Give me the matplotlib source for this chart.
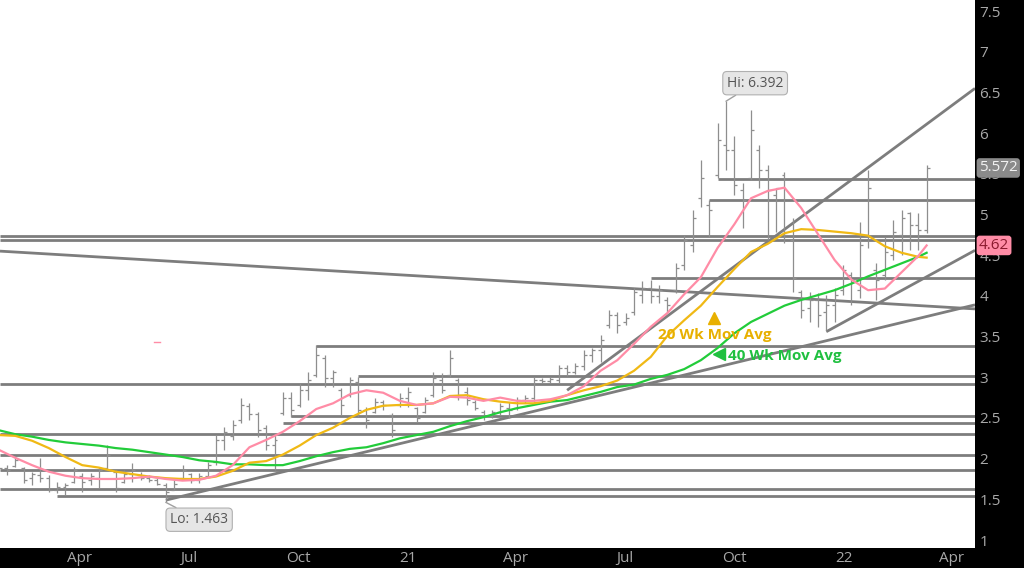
import numpy as np
import pandas as pd
import matplotlib
matplotlib.use("Agg")
import matplotlib.pyplot as plt
import matplotlib.dates as mdates
from matplotlib.ticker import FuncFormatter, MultipleLocator

plt.rcParams['font.family'] = ['Open Sans', 'DejaVu Sans']

# weekly bars, Jan 2020 - Mar 2022
weeks = pd.date_range("2020-01-24", periods=112, freq="7D")

high = [1.95, 1.92, 2.02, 1.90, 1.84, 2.01, 1.80, 1.71, 1.70, 1.90,
        1.82, 1.82, 1.90, 2.17, 1.86, 1.86, 1.95, 1.84, 1.80, 1.76,
        1.70, 1.74, 1.92, 1.82, 1.82, 1.96, 2.29, 2.39, 2.48, 2.75,
        2.68, 2.57, 2.41, 2.32, 2.82, 2.82, 2.93, 3.07, 3.40, 3.27,
        3.09, 2.87, 3.00, 3.00, 2.64, 2.75, 2.72, 2.56, 2.81, 2.88,
        2.64, 2.76, 3.07, 3.05, 3.34, 2.99, 2.88, 2.72, 2.60, 2.60,
        2.68, 2.70, 2.76, 2.78, 3.00, 2.99, 3.00, 3.15, 3.15, 3.18,
        3.34, 3.36, 3.52, 3.83, 3.80, 3.79, 4.10, 4.18, 4.20, 4.13,
        3.99, 4.40, 4.75, 5.06, 5.67, 5.18, 6.13, 6.392, 5.97, 5.39,
        6.28, 5.85, 5.61, 5.33, 5.52, 4.96, 4.07, 4.05, 4.04, 4.01,
        4.10, 4.38, 4.29, 4.91, 5.55, 4.40, 4.72, 4.93, 5.06, 5.03,
        5.02, 5.61]
low = [1.77, 1.80, 1.90, 1.70, 1.68, 1.71, 1.59, 1.58, 1.55, 1.70,
       1.59, 1.68, 1.64, 1.86, 1.59, 1.70, 1.71, 1.74, 1.71, 1.68,
       1.463, 1.62, 1.76, 1.70, 1.70, 1.78, 1.92, 2.11, 2.23, 2.44,
       2.48, 2.27, 2.11, 1.86, 2.54, 2.51, 2.64, 2.72, 3.00, 2.88,
       2.88, 2.54, 2.76, 2.51, 2.38, 2.56, 2.60, 2.27, 2.64, 2.64,
       2.45, 2.56, 2.76, 2.81, 3.00, 2.72, 2.66, 2.60, 2.48, 2.50,
       2.54, 2.50, 2.60, 2.68, 2.70, 2.93, 2.93, 2.93, 3.02, 3.04,
       3.09, 3.19, 3.19, 3.61, 3.54, 3.64, 3.77, 3.91, 3.91, 3.91,
       3.80, 4.04, 4.32, 4.54, 5.09, 4.72, 5.45, 5.55, 5.24, 4.83,
       5.42, 5.33, 4.69, 4.79, 4.65, 4.05, 3.73, 3.68, 3.62, 3.58,
       3.68, 4.01, 3.89, 3.97, 4.59, 3.95, 4.20, 4.44, 4.50, 4.56,
       4.56, 4.77]
opn = [1.86, 1.88, 1.91, 1.88, 1.76, 1.80, 1.76, 1.62, 1.65, 1.71,
       1.79, 1.74, 1.76, 1.89, 1.84, 1.71, 1.81, 1.80, 1.76, 1.74,
       1.68, 1.62, 1.76, 1.81, 1.74, 1.79, 1.96, 2.23, 2.28, 2.48,
       2.65, 2.55, 2.38, 2.17, 2.56, 2.75, 2.66, 2.84, 3.03, 3.24,
       2.99, 2.84, 2.78, 2.94, 2.60, 2.57, 2.70, 2.54, 2.66, 2.75,
       2.62, 2.57, 2.78, 2.97, 3.03, 2.97, 2.82, 2.70, 2.57, 2.52,
       2.57, 2.62, 2.62, 2.72, 2.75, 2.97, 2.95, 2.97, 3.11, 3.07,
       3.14, 3.27, 3.34, 3.64, 3.77, 3.68, 3.80, 4.01, 4.10, 4.00,
       3.95, 4.07, 4.38, 4.63, 5.20, 5.12, 5.49, 5.85, 5.79, 5.30,
       5.45, 5.79, 5.55, 5.24, 5.49, 4.69, 4.05, 3.85, 3.95, 3.80,
       3.89, 4.07, 4.26, 4.07, 4.75, 4.32, 4.26, 4.50, 4.75, 5.02,
       4.87, 4.81]
close = [1.88, 1.86, 1.98, 1.74, 1.81, 1.76, 1.62, 1.65, 1.68, 1.86,
         1.71, 1.79, 1.86, 2.05, 1.64, 1.81, 1.86, 1.76, 1.74, 1.69,
         1.59, 1.69, 1.86, 1.74, 1.79, 1.92, 2.23, 2.33, 2.41, 2.66,
         2.55, 2.35, 2.17, 2.23, 2.75, 2.60, 2.84, 2.97, 3.27, 2.99,
         3.07, 2.66, 2.97, 2.60, 2.48, 2.70, 2.66, 2.35, 2.75, 2.82,
         2.50, 2.72, 2.99, 2.84, 3.24, 2.78, 2.72, 2.62, 2.52, 2.57,
         2.65, 2.60, 2.72, 2.75, 2.97, 2.95, 2.98, 3.11, 3.07, 3.14,
         3.27, 3.34, 3.46, 3.77, 3.64, 3.73, 4.05, 4.10, 4.00, 4.07,
         3.89, 4.34, 4.69, 4.96, 5.45, 5.06, 5.92, 5.79, 5.36, 5.18,
         6.04, 5.55, 5.30, 5.33, 4.75, 4.22, 3.83, 3.95, 3.77, 3.89,
         4.01, 4.32, 4.20, 4.63, 5.33, 4.20, 4.54, 4.79, 4.96, 4.87,
         4.81, 5.572]

# moving averages read every second week (plus the last week)
ma_weeks = list(range(0, 112, 2)) + [111]
ma_fast = [2.11, 2.01, 1.92, 1.84, 1.79, 1.76, 1.75, 1.75, 1.76, 1.78,
           1.75, 1.73, 1.74, 1.79, 1.92, 2.14, 2.23, 2.33, 2.46, 2.61,
           2.68, 2.79, 2.84, 2.81, 2.71, 2.66, 2.68, 2.76, 2.75, 2.71,
           2.75, 2.71, 2.71, 2.73, 2.78, 2.89, 3.08, 3.21, 3.41, 3.62,
           3.79, 4.02, 4.23, 4.59, 4.88, 5.20, 5.29, 5.33, 5.08, 4.76,
           4.44, 4.20, 4.07, 4.09, 4.29, 4.49, 4.62]
ma20 = [2.29, 2.28, 2.22, 2.13, 2.02, 1.92, 1.89, 1.84, 1.81, 1.78,
        1.76, 1.75, 1.75, 1.78, 1.85, 1.95, 1.97, 2.05, 2.16, 2.29,
        2.38, 2.50, 2.60, 2.65, 2.66, 2.66, 2.68, 2.77, 2.78, 2.73,
        2.70, 2.68, 2.68, 2.71, 2.78, 2.84, 2.89, 2.96, 3.08, 3.25,
        3.51, 3.70, 3.88, 4.11, 4.33, 4.54, 4.64, 4.77, 4.82, 4.81,
        4.79, 4.77, 4.74, 4.61, 4.53, 4.48, 4.47]
ma40 = [2.35, 2.30, 2.27, 2.23, 2.20, 2.18, 2.16, 2.13, 2.11, 2.08,
        2.05, 2.02, 1.98, 1.96, 1.93, 1.93, 1.92, 1.92, 1.97, 2.03,
        2.08, 2.12, 2.14, 2.19, 2.25, 2.29, 2.33, 2.40, 2.46, 2.51,
        2.57, 2.62, 2.66, 2.70, 2.72, 2.77, 2.82, 2.88, 2.91, 2.98,
        3.03, 3.10, 3.21, 3.36, 3.54, 3.68, 3.78, 3.88, 3.95, 4.01,
        4.07, 4.15, 4.24, 4.32, 4.40, 4.48, 4.53]

# horizontal support / resistance levels (start week, None = whole chart)
hline_levels = [5.44, 5.18, 4.74, 4.69, 4.22, 3.38, 3.01, 2.92, 2.53, 2.44,
                2.30, 2.045, 1.855, 1.633, 1.54]
hline_start = [86, 85, None, None, 78, 38, 43, None, 35, 34,
               None, None, None, None, 7]

# trend lines: start week (None = left edge), price at start, price at right edge
trend_start_week = [None, 20, 68, 99]
trend_start_price = [4.55, 1.49, 2.84, 3.56]
trend_end_price = [3.84, 3.89, 6.55, 4.56]

last_close = 5.572
last_fast = 4.62

xs = mdates.date2num(weeks)
left = xs[0] + 1.17
right = xs[-1] + 40.5

fig = plt.figure(figsize=(10.24, 5.68), dpi=100, facecolor="black")
ax = fig.add_axes([0, 20 / 568, 975 / 1024, 548 / 568])
ax.set_facecolor("white")
ax.set_xlim(left, right)
ax.set_ylim(0.902, 7.636)

for lvl, st in zip(hline_levels, hline_start):
    x0 = left if st is None else xs[st]
    ax.hlines(lvl, x0, right, color="#7d7d7d", lw=2.0, zorder=2)

for st, p0, p1 in zip(trend_start_week, trend_start_price, trend_end_price):
    x0 = left if st is None else xs[st]
    ax.plot([x0, right], [p0, p1], color="#7d7d7d", lw=2.0, zorder=2,
            solid_capstyle="butt")

# OHLC bars
tick = 2.5
ax.vlines(xs, low, high, color="#8e8e8e", lw=0.9, zorder=3)
ax.hlines(opn, xs - tick, xs, color="#8e8e8e", lw=0.9, zorder=3)
ax.hlines(close, xs, xs + tick, color="#8e8e8e", lw=0.9, zorder=3)

mx = xs[ma_weeks]
ax.plot(mx, ma40, color="#22cc3a", lw=1.6, zorder=4)
ax.plot(mx, ma20, color="#f0b915", lw=1.6, zorder=4)
ax.plot(mx, ma_fast, color="#ff8ca6", lw=1.6, zorder=4)

# small stray pink tick left of the chart's middle
ax.plot([0.158, 0.164], [0.376, 0.376], color="#ff8ca6", lw=1, transform=ax.transAxes)

# hi / lo callouts
box = dict(boxstyle="round,pad=0.3,rounding_size=0.3", fc="#e6e6e6", ec="#b0b0b0", lw=0.8)
ax.annotate("Hi: 6.392", xy=(xs[87], 6.392), xytext=(21, 13), textcoords="offset points",
            ha="center", va="center", fontsize=10, color="#555555", bbox=box,
            arrowprops=dict(arrowstyle="-", color="#a0a0a0", lw=1, shrinkA=0, shrinkB=0), zorder=6)
ax.annotate("Lo: 1.463", xy=(xs[20], 1.463), xytext=(24, -12.5), textcoords="offset points",
            ha="center", va="center", fontsize=10, color="#555555", bbox=box,
            arrowprops=dict(arrowstyle="-", color="#a0a0a0", lw=1, shrinkA=0, shrinkB=0), zorder=6)

# moving-average labels
ax.text(0.733, 0.389, "20 Wk Mov Avg", transform=ax.transAxes, ha="center", va="center",
        fontsize=11, fontweight="bold", color="#e8b000", zorder=6)
ax.plot([0.732], [0.42], marker="^", ms=8, color="#e8b000", transform=ax.transAxes, zorder=6)
ax.text(0.747, 0.350, "40 Wk Mov Avg", transform=ax.transAxes, ha="left", va="center",
        fontsize=11, fontweight="bold", color="#20c040", zorder=6)
ax.plot([0.737], [0.354], marker="<", ms=8, color="#20c040", transform=ax.transAxes, zorder=6)

# axes styling
for s in ax.spines.values():
    s.set_visible(False)
ax.yaxis.tick_right()
ax.yaxis.set_major_locator(MultipleLocator(0.5))
ax.yaxis.set_major_formatter(FuncFormatter(lambda v, p: "{:g}".format(v)))
ax.tick_params(axis="y", length=0, pad=3, labelsize=11, labelcolor="#a8a8a8")

ax.xaxis.set_major_locator(mdates.MonthLocator(bymonth=[1, 4, 7, 10]))


def month_label(v, pos):
    d = mdates.num2date(v)
    return d.strftime("%y") if d.month == 1 else d.strftime("%b")


ax.xaxis.set_major_formatter(FuncFormatter(month_label))
ax.tick_params(axis="x", length=0, pad=2, labelsize=11, labelcolor="#a8a8a8")

# last price / fast average tags on the right scale
ytr = ax.get_yaxis_transform()
ax.text(1.004, last_close, "5.572", transform=ytr, ha="left", va="center", fontsize=11,
        color="#f2f2f2", clip_on=False, zorder=10,
        bbox=dict(boxstyle="round,pad=0.15,rounding_size=0.2", fc="#8a8a8a", ec="none"))
ax.text(1.004, last_fast, "4.62", transform=ytr, ha="left", va="center", fontsize=11,
        color="#8a1a2e", clip_on=False, zorder=10,
        bbox=dict(boxstyle="round,pad=0.15,rounding_size=0.2", fc="#ff8ca6", ec="none"))

fig.savefig("out.png", dpi=100, facecolor="black")
